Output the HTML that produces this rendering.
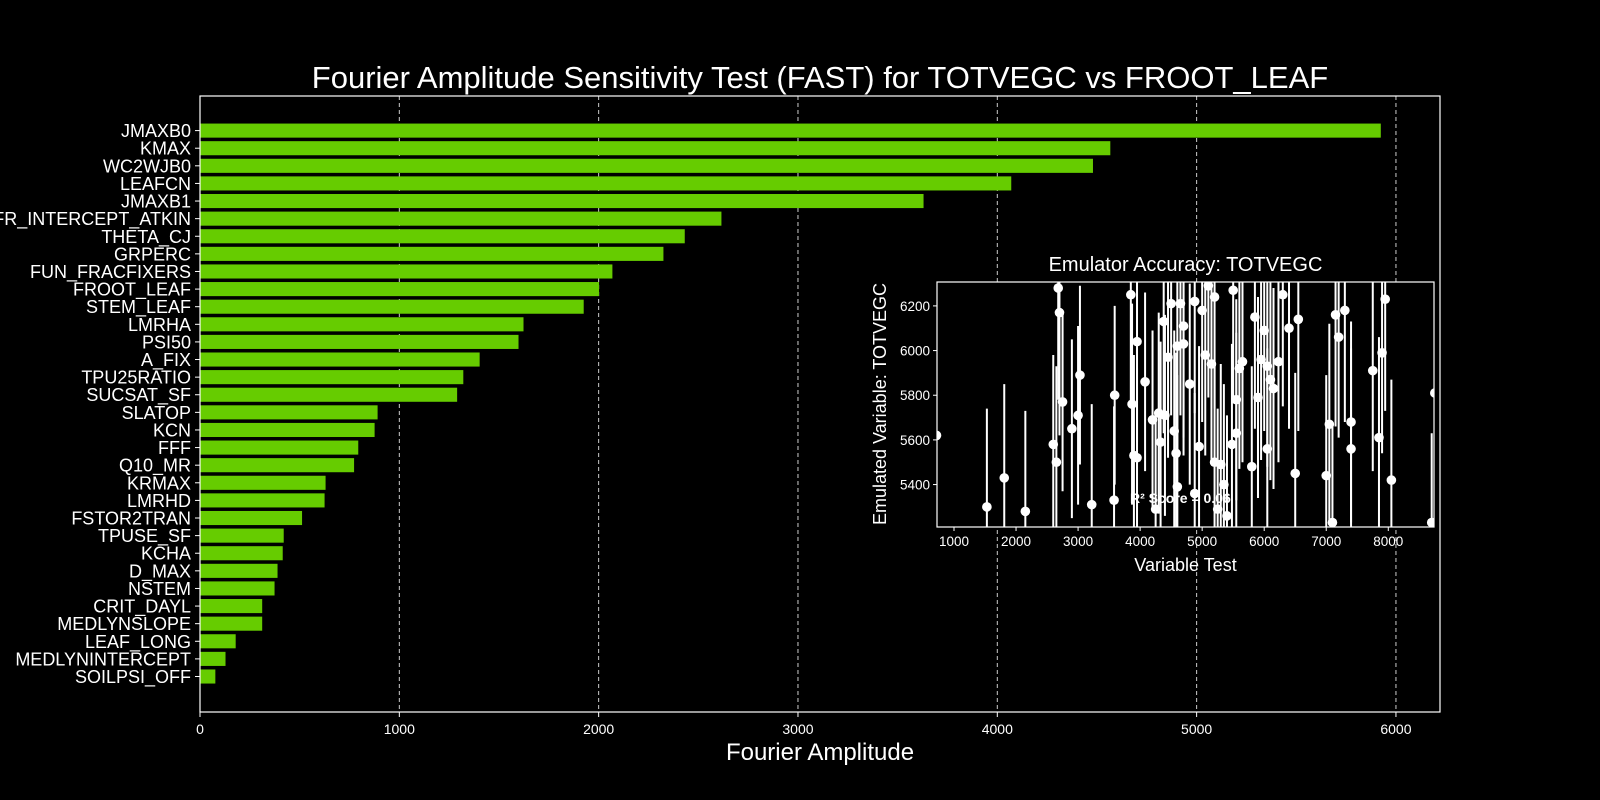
<!DOCTYPE html>
<html><head><meta charset="utf-8"><style>
html,body{margin:0;padding:0;background:#000;}
svg{display:block;font-family:"Liberation Sans",sans-serif;}
</style></head><body>
<svg id="chart" width="1600" height="800" xmlns="http://www.w3.org/2000/svg">
<rect width="1600" height="800" fill="#000"/>
<g id="main"></g>
<g id="inset"></g>
</svg>
<script>
const categories=["JMAXB0","KMAX","WC2WJB0","LEAFCN","JMAXB1","FR_INTERCEPT_ATKIN","THETA_CJ","GRPERC","FUN_FRACFIXERS","FROOT_LEAF","STEM_LEAF","LMRHA","PSI50","A_FIX","TPU25RATIO","SUCSAT_SF","SLATOP","KCN","FFF","Q10_MR","KRMAX","LMRHD","FSTOR2TRAN","TPUSE_SF","KCHA","D_MAX","NSTEM","CRIT_DAYL","MEDLYNSLOPE","LEAF_LONG","MEDLYNINTERCEPT","SOILPSI_OFF"];
const amplitudes=[5924,4567,4480,4070,3630,2616,2432,2325,2069,2002,1925,1623,1598,1403,1321,1290,891,876,794,773,630,625,512,420,415,389,374,312,312,179,128,77];
const xTicks=[0,1000,2000,3000,4000,5000,6000];
const testX=[718,1530,1810,2150,2600,2650,2680,2700,2750,2900,3030,3000,3220,3580,3590,3850,3870,3900,3950,3950,4080,4200,4250,4300,4330,4380,4400,4450,4500,4550,4580,4600,4600,4650,4700,4700,4800,4880,4880,4950,5000,5050,5100,5150,5200,5200,5250,5300,5350,5400,5480,5500,5550,5550,5600,5650,5800,5850,5900,5950,6000,6050,6050,6100,6150,6230,6300,6400,6500,6550,7000,7050,7100,7150,7200,7300,7400,7400,7750,7850,7900,7950,8050,8700,8750];
const emuY=[5620,5300,5430,5280,5580,5500,6280,6170,5770,5650,5890,5710,5310,5330,5800,6250,5760,5530,6040,5520,5860,5690,5290,5720,5590,6130,5710,5970,6210,5640,5540,5390,6020,6210,6110,6030,5850,5360,6220,5570,6180,5980,6290,5940,6240,5500,5290,5490,5400,5260,5580,6270,5630,5780,5920,5950,5480,6150,5790,5960,6090,5930,5560,5870,5830,5950,6250,6100,5450,6140,5440,5670,5230,6160,6060,6180,5680,5560,5910,5610,5990,6230,5420,5230,5810];
const emuErr=[0,440,420,450,400,430,500,550,400,400,400,400,450,420,400,500,450,450,450,400,400,400,400,450,450,500,450,450,500,450,450,500,500,500,500,500,450,450,500,450,500,450,500,450,500,450,450,450,450,450,450,500,450,450,450,450,450,500,450,450,450,450,450,450,450,450,500,450,450,500,450,450,450,500,450,500,450,450,450,450,450,500,450,400,400];
const insetXTicks=[1000,2000,3000,4000,5000,6000,7000,8000];
const insetYTicks=[5400,5600,5800,6000,6200];
const NS="http://www.w3.org/2000/svg";
function mk(parent,tag,attrs,text){const e=document.createElementNS(NS,tag);for(const k in attrs)e.setAttribute(k,attrs[k]);if(text!==undefined)e.textContent=text;parent.appendChild(e);return e;}
const L=200,R=1440,T=96,B=712,XMAX=6221;
const xs=v=>L+(v/XMAX)*(R-L);
const c0=130.6,c1=676.5,step=(c1-c0)/(categories.length-1);
const ys=i=>c0+i*step;
const main=document.getElementById('main');
let t=mk(main,'text',{x:820,y:88,'text-anchor':'middle','font-size':31,fill:'#fff'},'Fourier Amplitude Sensitivity Test (FAST) for TOTVEGC vs FROOT_LEAF');


xTicks.forEach(v=>{
 if(v>0){const g=mk(main,'line',{x1:xs(v),x2:xs(v),y1:T,y2:B,stroke:'#ccc','stroke-width':1,'stroke-dasharray':'4,3'});
 
 }
 const tk=mk(main,'line',{x1:xs(v),x2:xs(v),y1:B,y2:B+5,stroke:'#fff'});
 
 
 const tl=mk(main,'text',{x:xs(v),y:B+22,'text-anchor':'middle','font-size':14,fill:'#fff'},String(v));
 
 
});
categories.forEach((c,i)=>{
 const y=ys(i),h=step*0.8;
 const r=mk(main,'rect',{x:L,y:y-h/2,width:xs(amplitudes[i])-L,height:h,fill:'#66cc00'});
 
 
 const tk=mk(main,'line',{x1:L-5,x2:L,y1:y,y2:y,stroke:'#fff'});
 
 
 const tl=mk(main,'text',{x:L-9,y:y+6.5,'text-anchor':'end','font-size':18,fill:'#fff'},c);
 
 
});
const fr=mk(main,'rect',{x:L,y:T,width:R-L,height:B-T,fill:'none',stroke:'#fff','stroke-width':1.2});


t=mk(main,'text',{x:820,y:760,'text-anchor':'middle','font-size':24,fill:'#fff'},'Fourier Amplitude');


const iL=937,iR=1434,iT=282,iB=527,IX0=726,IX1=8737,IY0=5210,IY1=6307;
const ix=v=>iL+(v-IX0)/(IX1-IX0)*(iR-iL);
const iy=v=>iB-(v-IY0)/(IY1-IY0)*(iB-iT);
const inset=document.getElementById('inset');
const bg=mk(inset,'rect',{x:iL,y:iT,width:iR-iL,height:iB-iT,fill:'#000'});


const clip=mk(mk(inset,'defs',{}),'clipPath',{id:'ic'});
mk(clip,'rect',{x:iL,y:iT,width:iR-iL,height:iB-iT});
const plot=mk(inset,'g',{'clip-path':'url(#ic)'});
t=mk(plot,'text',{x:1130,y:503,'font-size':14,'font-weight':'bold',fill:'#fff'},'R² Score = 0.06');


testX.forEach((v,i)=>{
 const x=ix(v);
 if(emuErr[i]>0){const l=mk(plot,'line',{x1:x,x2:x,y1:iy(emuY[i]-emuErr[i]),y2:iy(emuY[i]+emuErr[i]),stroke:'#fff','stroke-width':2});
 
 }
 const p=mk(plot,'circle',{cx:x,cy:iy(emuY[i]),r:4.8,fill:'#fff'});
 
 
});
const ifr=mk(inset,'rect',{x:iL,y:iT,width:iR-iL,height:iB-iT,fill:'none',stroke:'#fff','stroke-width':1.2});


insetXTicks.forEach(v=>{
 const tk=mk(inset,'line',{x1:ix(v),x2:ix(v),y1:iB,y2:iB+4,stroke:'#fff'});
 
 
 const tl=mk(inset,'text',{x:ix(v),y:iB+19,'text-anchor':'middle','font-size':13.5,fill:'#fff'},String(v));
 
 
});
insetYTicks.forEach(v=>{
 const tk=mk(inset,'line',{x1:iL-4,x2:iL,y1:iy(v),y2:iy(v),stroke:'#fff'});
 
 
 const tl=mk(inset,'text',{x:iL-7,y:iy(v)+5,'text-anchor':'end','font-size':13.5,fill:'#fff'},String(v));
 
 
});
t=mk(inset,'text',{x:(iL+iR)/2,y:271,'text-anchor':'middle','font-size':20,fill:'#fff'},'Emulator Accuracy: TOTVEGC');


t=mk(inset,'text',{x:(iL+iR)/2,y:571,'text-anchor':'middle','font-size':18,fill:'#fff'},'Variable Test');


t=mk(inset,'text',{x:0,y:0,'text-anchor':'middle','font-size':18,fill:'#fff',transform:'translate(886,404) rotate(-90)'},'Emulated Variable: TOTVEGC');


</script>
</body></html>
